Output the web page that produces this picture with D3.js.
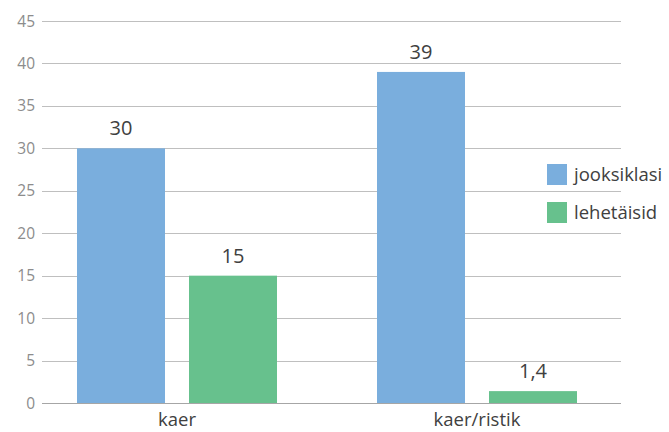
<!DOCTYPE html>
<html>
<head>
<meta charset="utf-8">
<script src="https://cdn.jsdelivr.net/npm/d3@7"></script>
<style>
  body { margin: 0; background: #fff; }
  text { font-family: "Open Sans", "Noto Sans", sans-serif; }
</style>
</head>
<body>
<div id="svganchor"></div>
<script>
let width = 669;
let height = 432;

// data
let categories = ["kaer", "kaer/ristik"];
let seriesNames = ["jooksiklasi", "lehetäisid"];
let jooksiklasi = [30, 39];
let lehetaisid = [15, 1.4];
let yTicks = [0, 5, 10, 15, 20, 25, 30, 35, 40, 45];
let colors = ["#7aaedd", "#67c18d"];

let seriesValues = [jooksiklasi, lehetaisid];

let svg = d3.select("#svganchor").append("svg")
  .attr("width", width).attr("height", height);

let gridLeft = 42, gridRight = 621;

let yScale = d3.scaleLinear().domain([0, 45]).range([403, 21]);

let x0 = d3.scaleBand().domain(categories)
  .range([27, 627]).paddingInner(1 / 3).paddingOuter(1 / 6);

let x1 = d3.scaleBand().domain(seriesNames)
  .range([0, x0.bandwidth()]).paddingInner(24 / 112);

let etLocale = d3.formatLocale({ decimal: ",", thousands: " ", grouping: [3], currency: ["", " €"] });
let fmt = v => Number.isInteger(v) ? String(v) : etLocale.format(".1f")(v);

// gridlines
svg.append("g")
  .selectAll("line")
  .data(yTicks)
  .enter()
  .append("line")
  .attr("x1", gridLeft)
  .attr("x2", gridRight)
  .attr("y1", d => Math.round(yScale(d)) + 0.5)
  .attr("y2", d => Math.round(yScale(d)) + 0.5)
  .attr("stroke", d => d === 0 ? "#a6a6a6" : "#bfbfbf")
  .attr("stroke-width", 1);

// y tick labels
svg.append("g")
  .selectAll("text")
  .data(yTicks)
  .enter()
  .append("text")
  .attr("x", 35)
  .attr("y", d => yScale(d) + 5.5)
  .attr("text-anchor", "end")
  .attr("font-size", 15.5)
  .attr("fill", "#8c8c8c")
  .text(d => d);

// bars
let groups = svg.append("g")
  .selectAll("g")
  .data(categories)
  .enter()
  .append("g")
  .attr("transform", d => "translate(" + x0(d) + ",0)");

groups.selectAll("rect")
  .data((c, i) => seriesNames.map((s, j) => ({ s: s, v: seriesValues[j][i], j: j })))
  .enter()
  .append("rect")
  .attr("x", d => x1(d.s))
  .attr("width", x1.bandwidth())
  .attr("y", d => yScale(d.v))
  .attr("height", d => yScale(0) - yScale(d.v))
  .attr("fill", d => colors[d.j]);

groups.selectAll("text")
  .data((c, i) => seriesNames.map((s, j) => ({ s: s, v: seriesValues[j][i], j: j })))
  .enter()
  .append("text")
  .attr("x", d => x1(d.s) + x1.bandwidth() / 2)
  .attr("y", d => yScale(d.v) - 13)
  .attr("text-anchor", "middle")
  .attr("font-size", 20)
  .attr("fill", "#404040")
  .text(d => fmt(d.v));

// category labels
svg.append("g")
  .selectAll("text")
  .data(categories)
  .enter()
  .append("text")
  .attr("x", d => x0(d) + x0.bandwidth() / 2)
  .attr("y", 426)
  .attr("text-anchor", "middle")
  .attr("font-size", 18.5)
  .attr("fill", "#404040")
  .text(d => d);

// legend
let legend = svg.append("g")
  .selectAll("g")
  .data(seriesNames)
  .enter()
  .append("g")
  .attr("transform", (d, i) => "translate(547," + (164 + i * 38) + ")");

legend.append("rect")
  .attr("width", 20)
  .attr("height", 21)
  .attr("fill", (d, i) => colors[i]);

legend.append("text")
  .attr("x", 27)
  .attr("y", 17)
  .attr("font-size", 18.5)
  .attr("fill", "#404040")
  .text(d => d);
</script>
</body>
</html>
